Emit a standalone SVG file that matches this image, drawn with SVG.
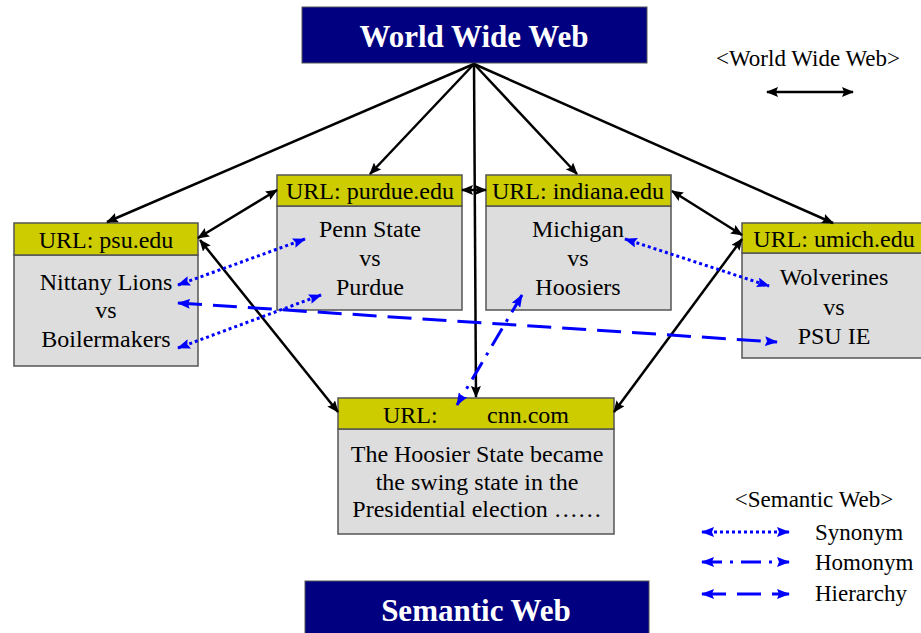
<svg xmlns="http://www.w3.org/2000/svg" width="921" height="633" viewBox="0 0 921 633">
<style>
text{font-family:"Liberation Serif","Times New Roman",serif;fill:#000}
.t{font-size:24px;text-anchor:middle}
.lg{font-size:23px}
.title{font-size:31px;font-weight:bold;fill:#fff;text-anchor:middle}
.hd{fill:#CCCC00;stroke:#555;stroke-width:1.5}
.bd{fill:#DDDDDD;stroke:#555;stroke-width:1.5}
.nv{fill:#000080;stroke:#555;stroke-width:1}
.k{stroke:#000;stroke-width:2.5;fill:none;marker-end:url(#ak)}
.k2{stroke:#000;stroke-width:2.5;fill:none;marker-start:url(#ak);marker-end:url(#ak)}
.syn{stroke:#0000FF;stroke-width:3;fill:none;stroke-dasharray:3 3;marker-start:url(#ab);marker-end:url(#ab)}
.hom{stroke:#0000FF;stroke-width:3;fill:none;stroke-dasharray:20 8 3 8;marker-start:url(#ab);marker-end:url(#ab)}
.hie{stroke:#0000FF;stroke-width:3;fill:none;stroke-dasharray:24 11;marker-start:url(#ab);marker-end:url(#ab)}
</style>
<defs>
<marker id="ak" markerUnits="userSpaceOnUse" markerWidth="12" markerHeight="10" refX="11" refY="5" orient="auto-start-reverse" viewBox="0 0 12 10"><path d="M0,0 L12,5 L0,10 L2,5 z" fill="#000"/></marker>
<marker id="ab" markerUnits="userSpaceOnUse" markerWidth="13" markerHeight="10" refX="12" refY="5" orient="auto-start-reverse" viewBox="0 0 13 10"><path d="M0,0 L13,5 L0,10 L2,5 z" fill="#0000FF"/></marker>
</defs>

<g id="www">
<rect class="nv" x="302" y="7" width="345" height="56"/>
<text class="title" x="474" y="47">World Wide Web</text>
</g>
<g id="semantic">
<rect class="nv" x="305" y="581" width="344" height="60"/>
<text class="title" x="476" y="621">Semantic Web</text>
</g>

<g id="psu">
<rect class="bd" x="14" y="255" width="184" height="111"/>
<rect class="hd" x="14" y="223" width="184" height="32"/>
<text class="t" x="106" y="248">URL: psu.edu</text>
<text class="t" x="106" y="290">Nittany Lions</text>
<text class="t" x="106" y="318">vs</text>
<text class="t" x="106" y="347">Boilermakers</text>
</g>
<g id="purdue">
<rect class="bd" x="277" y="206" width="185" height="104"/>
<rect class="hd" x="277" y="175" width="185" height="31"/>
<text class="t" x="370" y="199">URL: purdue.edu</text>
<text class="t" x="370" y="237">Penn State</text>
<text class="t" x="370" y="266">vs</text>
<text class="t" x="370" y="295">Purdue</text>
</g>
<g id="indiana">
<rect class="bd" x="486" y="206" width="185" height="104"/>
<rect class="hd" x="486" y="175" width="185" height="31"/>
<text class="t" x="578" y="199">URL: indiana.edu</text>
<text class="t" x="578" y="237">Michigan</text>
<text class="t" x="578" y="266">vs</text>
<text class="t" x="578" y="295">Hoosiers</text>
</g>
<g id="umich">
<rect class="bd" x="742" y="253" width="184" height="105"/>
<rect class="hd" x="742" y="223" width="184" height="30"/>
<text class="t" x="834" y="247">URL: umich.edu</text>
<text class="t" x="834" y="285">Wolverines</text>
<text class="t" x="834" y="315">vs</text>
<text class="t" x="834" y="344">PSU IE</text>
</g>
<g id="cnn">
<rect class="bd" x="338" y="429" width="276" height="105"/>
<rect class="hd" x="338" y="398" width="276" height="31"/>
<text style="font-size:24px"><tspan x="383" y="423">URL:</tspan><tspan x="487" y="423">cnn.com</tspan></text>
<text class="t" x="477" y="462">The Hoosier State became</text>
<text class="t" x="477" y="490">the swing state in the</text>
<text class="t" x="477" y="517">Presidential election ……</text>
</g>

<g id="connectors">
<line class="k" x1="474" y1="64" x2="107" y2="222"/>
<line class="k" x1="474" y1="64" x2="370" y2="174"/>
<line class="k" x1="474" y1="64" x2="476" y2="397"/>
<line class="k" x1="474" y1="64" x2="577" y2="174"/>
<line class="k" x1="474" y1="64" x2="833" y2="223"/>
<line class="k2" x1="198" y1="238" x2="277" y2="190"/>
<line class="k2" x1="200" y1="240" x2="338" y2="412"/>
<line class="k2" x1="462" y1="190" x2="486" y2="190"/>
<line class="k2" x1="672" y1="191" x2="742" y2="235"/>
<line class="k2" x1="742" y1="239" x2="614" y2="412"/>
<line class="syn" x1="178" y1="285" x2="305" y2="239"/>
<line class="syn" x1="178" y1="348" x2="321" y2="295"/>
<line class="syn" x1="625" y1="239" x2="769" y2="286"/>
<line class="hom" x1="522" y1="295" x2="457" y2="405"/>
<line class="hie" x1="178" y1="303" x2="777" y2="342"/>
</g>

<g id="legend">
<text class="lg" x="808" y="66" text-anchor="middle">&lt;World Wide Web&gt;</text>
<line class="k2" x1="767" y1="92" x2="853" y2="92"/>
<text class="lg" x="814" y="507" text-anchor="middle">&lt;Semantic Web&gt;</text>
<line class="syn" x1="702" y1="532" x2="789" y2="532"/>
<text class="lg" x="815" y="540">Synonym</text>
<line class="hom" x1="702" y1="562" x2="789" y2="562"/>
<text class="lg" x="815" y="570">Homonym</text>
<line class="hie" x1="702" y1="594" x2="789" y2="594"/>
<text class="lg" x="815" y="601">Hierarchy</text>
</g>
</svg>
